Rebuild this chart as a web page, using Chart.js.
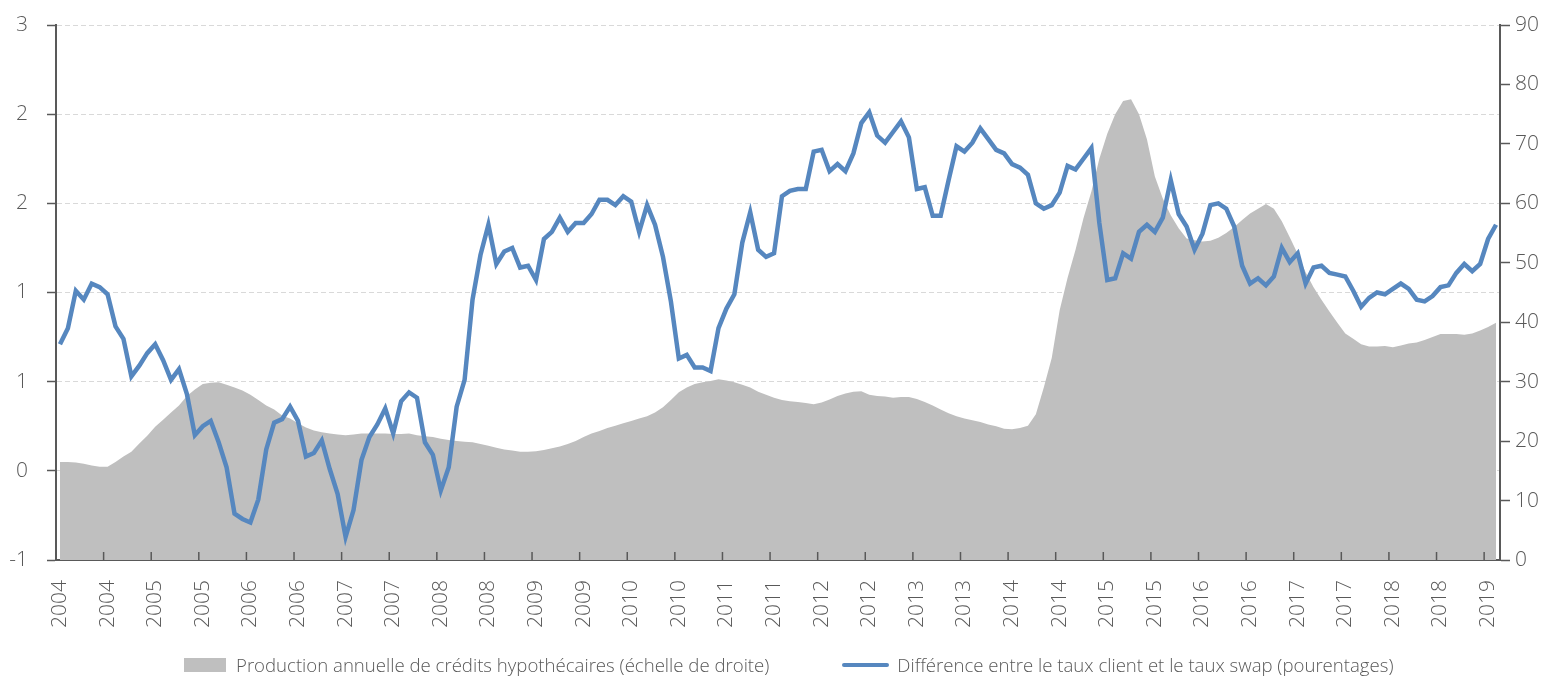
<!DOCTYPE html>
<html>
<head>
<meta charset="utf-8">
<script src="https://cdn.jsdelivr.net/npm/chart.js@4.4.1/dist/chart.umd.min.js"></script>
<style>
  html, body { margin: 0; padding: 0; background: #fff; }
  #wrap { position: relative; width: 1559px; height: 681px; }
  #legend {
    position: absolute; left: 184px; top: 652px;
    display: flex; align-items: center;
    font-family: 'Open Sans', sans-serif; font-weight: 300; font-size: 18.6px; color: #595959;
    white-space: nowrap;
  }
  .swatch { width: 42px; height: 14px; background: #bfbfbf; margin-right: 10px; }
  .lineswatch { width: 47px; height: 4px; background: #5687bf; margin-left: 73px; margin-right: 8px; border-radius: 2px; }
</style>
</head>
<body>
<div id="wrap">
  <canvas id="chart" width="1559" height="681"></canvas>
  <div id="legend">
    <span class="swatch"></span><span>Production annuelle de crédits hypothécaires (échelle de droite)</span>
    <span class="lineswatch"></span><span>Différence entre le taux client et le taux swap (pourentages)</span>
  </div>
</div>
<script>
// Monthly categories, Jan 2004 to Feb 2019
const startYear = 2004
const monthCount = 182
const months = Array.from({ length: monthCount }, (_, i) =>
  `${startYear + Math.floor(i / 12)}-${String((i % 12) + 1).padStart(2, '0')}`)

// Labels shown every 6 months
const yearLabels = [
  '2004', '2004', '2005', '2005', '2006', '2006', '2007', '2007', '2008', '2008',
  '2009', '2009', '2010', '2010', '2011', '2011', '2012', '2012', '2013', '2013',
  '2014', '2014', '2015', '2015', '2016', '2016', '2017', '2017', '2018', '2018', '2019'
]

// Left axis tick labels as printed (rounded), from -0.5 to 2.5
const leftTickLabels = ['-1', '0', '1', '1', '2', '2', '3']

// Spread between client rate and swap rate (percent), left axis
const spread = [
  0.71, 0.80, 1.01, 0.96, 1.05, 1.03, 0.99, 0.81, 0.74, 0.53,
  0.59, 0.66, 0.71, 0.62, 0.51, 0.57, 0.43, 0.20, 0.25, 0.28,
  0.16, 0.02, -0.24, -0.27, -0.29, -0.16, 0.12, 0.27, 0.29, 0.36,
  0.28, 0.08, 0.10, 0.17, 0.01, -0.13, -0.37, -0.22, 0.06, 0.19,
  0.26, 0.35, 0.21, 0.39, 0.44, 0.41, 0.16, 0.09, -0.11, 0.02,
  0.36, 0.51, 0.96, 1.21, 1.38, 1.16, 1.23, 1.25, 1.14, 1.15,
  1.07, 1.30, 1.34, 1.42, 1.34, 1.39, 1.39, 1.44, 1.52, 1.52,
  1.49, 1.54, 1.51, 1.34, 1.49, 1.38, 1.20, 0.95, 0.63, 0.65,
  0.58, 0.58, 0.56, 0.80, 0.91, 0.99, 1.28, 1.45, 1.24, 1.20,
  1.22, 1.54, 1.57, 1.58, 1.58, 1.79, 1.80, 1.68, 1.72, 1.68,
  1.78, 1.95, 2.01, 1.88, 1.84, 1.90, 1.96, 1.87, 1.58, 1.59,
  1.43, 1.43, 1.63, 1.82, 1.79, 1.84, 1.92, 1.86, 1.80, 1.78,
  1.72, 1.70, 1.66, 1.50, 1.47, 1.49, 1.56, 1.71, 1.69, 1.75,
  1.81, 1.39, 1.07, 1.08, 1.22, 1.19, 1.34, 1.38, 1.34, 1.42,
  1.63, 1.44, 1.37, 1.24, 1.33, 1.49, 1.50, 1.47, 1.37, 1.15,
  1.05, 1.08, 1.04, 1.09, 1.25, 1.17, 1.22, 1.05, 1.14, 1.15,
  1.11, 1.10, 1.09, 1.01, 0.92, 0.97, 1.00, 0.99, 1.02, 1.05,
  1.02, 0.96, 0.95, 0.98, 1.03, 1.04, 1.11, 1.16, 1.12, 1.16,
  1.30, 1.38
]

// Annual mortgage credit production, right axis
const production = [
  16.5, 16.5, 16.4, 16.2, 15.9, 15.7, 15.7, 16.5, 17.4, 18.2,
  19.6, 20.9, 22.4, 23.6, 24.8, 26.0, 27.6, 28.7, 29.6, 29.8,
  29.9, 29.5, 29.0, 28.5, 27.8, 26.9, 26.0, 25.3, 24.3, 23.8,
  23.0, 22.3, 21.8, 21.5, 21.3, 21.1, 21.0, 21.1, 21.3, 21.3,
  21.3, 21.3, 21.2, 21.2, 21.3, 21.0, 20.8, 20.7, 20.4, 20.2,
  20.0, 19.9, 19.8, 19.5, 19.2, 18.9, 18.6, 18.4, 18.2, 18.2,
  18.3, 18.5, 18.8, 19.1, 19.5, 20.0, 20.7, 21.3, 21.7, 22.2,
  22.6, 23.0, 23.4, 23.8, 24.2, 24.8, 25.7, 26.9, 28.2, 29.0,
  29.6, 29.9, 30.1, 30.4, 30.2, 29.9, 29.5, 29.0, 28.3, 27.8,
  27.3, 26.9, 26.7, 26.6, 26.4, 26.2, 26.5, 27.0, 27.6, 28.0,
  28.3, 28.4, 27.8, 27.6, 27.5, 27.3, 27.4, 27.4, 27.1, 26.6,
  26.0, 25.3, 24.7, 24.2, 23.8, 23.5, 23.2, 22.8, 22.5, 22.1,
  22.0, 22.2, 22.6, 24.5, 29.0, 34.0, 42.0, 47.5, 52.2, 57.5,
  62.0, 67.5, 71.7, 75.0, 77.2, 77.5, 75.0, 70.8, 64.5, 60.8,
  58.0, 55.8, 54.1, 53.8, 53.6, 53.7, 54.2, 55.0, 56.0, 57.2,
  58.3, 59.1, 59.9, 59.1, 57.0, 54.3, 51.5, 48.4, 45.9, 43.8,
  41.8, 39.9, 38.1, 37.2, 36.3, 35.9, 35.9, 36.0, 35.8, 36.1,
  36.4, 36.6, 37.0, 37.5, 38.0, 38.0, 38.0, 37.9, 38.1, 38.6,
  39.2, 39.9
]

const axisColor = '#595959'
const tickFont = { family: 'Open Sans', size: 21, weight: '300' }

// Excel style tick marks pointing up into the plot, every 6 months
const innerTicks = {
  id: 'innerTicks',
  afterDatasetsDraw(chart) {
    const x = chart.scales.x
    const ctx = chart.ctx
    const half = (x.getPixelForValue(1) - x.getPixelForValue(0)) / 2
    ctx.save()
    ctx.strokeStyle = axisColor
    ctx.lineWidth = 1.5
    for (let i = 0; i < months.length; i += 6) {
      const px = x.getPixelForValue(i) - half
      ctx.beginPath()
      ctx.moveTo(px, x.top)
      ctx.lineTo(px, x.top - 8)
      ctx.stroke()
    }
    ctx.restore()
  }
}

new Chart(document.getElementById('chart').getContext('2d'), {
  type: 'line',
  data: {
    labels: months,
    datasets: [
      {
        label: 'Différence entre le taux client et le taux swap (pourentages)',
        data: spread,
        yAxisID: 'y',
        borderColor: '#5687bf',
        borderWidth: 4.5,
        pointRadius: 0,
        tension: 0,
        fill: false
      },
      {
        label: 'Production annuelle de crédits hypothécaires (échelle de droite)',
        data: production,
        yAxisID: 'y1',
        borderWidth: 0,
        backgroundColor: '#bfbfbf',
        pointRadius: 0,
        tension: 0,
        fill: 'origin'
      }
    ]
  },
  options: {
    responsive: false,
    animation: false,
    layout: {
      padding: { top: 25, left: 0, right: 0, bottom: 0 }
    },
    plugins: {
      legend: { display: false },
      tooltip: { enabled: false }
    },
    scales: {
      x: {
        offset: true,
        grid: { display: false },
        border: { display: true, color: axisColor, width: 2 },
        ticks: {
          autoSkip: false,
          minRotation: 90,
          maxRotation: 90,
          padding: 12,
          color: axisColor,
          font: tickFont,
          callback: (value, index) => (index % 6 === 0 ? yearLabels[index / 6] : null)
        },
        afterFit: (scale) => {
          scale.height = 121
        }
      },
      y: {
        position: 'left',
        min: -0.5,
        max: 2.5,
        ticks: {
          stepSize: 0.5,
          padding: 19,
          color: axisColor,
          font: tickFont,
          callback: (value, index) => leftTickLabels[index]
        },
        grid: {
          color: '#d9d9d9',
          lineWidth: 1,
          tickLength: 9,
          tickColor: axisColor,
          tickWidth: 1.5,
          tickBorderDash: []
        },
        border: { display: true, color: axisColor, width: 2, dash: [5, 3] },
        afterFit: (scale) => {
          // the label padding would otherwise push the plot top down
          scale.width = 56
          scale.paddingTop = 0
          scale.paddingBottom = 0
        }
      },
      y1: {
        position: 'right',
        min: 0,
        max: 90,
        ticks: {
          stepSize: 10,
          padding: 5,
          color: axisColor,
          font: tickFont
        },
        grid: {
          drawOnChartArea: false,
          tickLength: 10,
          tickColor: axisColor,
          tickWidth: 1.5
        },
        border: { display: true, color: axisColor, width: 2 },
        afterFit: (scale) => {
          scale.width = 59
        }
      }
    }
  },
  plugins: [innerTicks]
})
</script>
</body>
</html>
